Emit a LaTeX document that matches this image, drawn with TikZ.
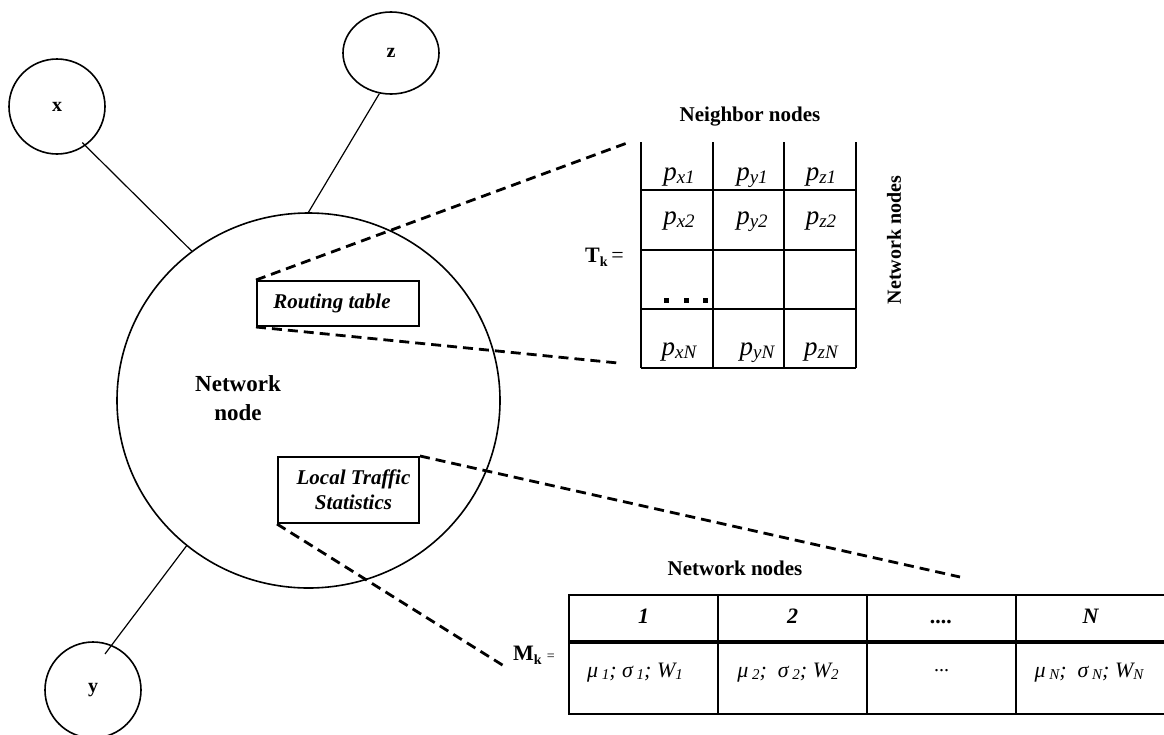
\documentclass[tikz,border=0pt]{standalone}
\usepackage{fontspec}
\setmainfont{Liberation Serif}
\usetikzlibrary{shapes.geometric,calc}
\newcommand\fs[1]{\fontsize{#1}{#1}\selectfont}
\newcommand\pcell[1]{\fs{27}\itshape p\raisebox{-3pt}{\fs{19}#1}}
\newcommand\msub[1]{\raisebox{-2pt}{\fs{15}#1}}
\tikzset{
  nd/.style={draw,ellipse,line width=1.6pt,inner sep=0pt,font=\fs{20}\bfseries},
  link/.style={line width=1.2pt},
  zoomline/.style={line width=2.8pt,dash pattern=on 10pt off 6pt},
  box/.style={draw,line width=2pt,inner sep=0pt},
  tline/.style={line width=1.7pt},
  mline/.style={line width=2.4pt},
  thickline/.style={line width=4.5pt},
  cell/.style={anchor=base,inner sep=0pt},
  hdr/.style={anchor=base,inner sep=0pt,font=\fs{22}\bfseries\itshape},
  mcell/.style={anchor=base,inner sep=0pt,font=\fs{22}\itshape},
  ttl/.style={anchor=base,inner sep=0pt,font=\fs{21}\bfseries},
}
\begin{document}
\begin{tikzpicture}[x=1pt,y=-1pt]
\useasboundingbox (0,0) rectangle (1164,734);
% nodes
\node[nd,minimum width=383pt,minimum height=375pt] (big) at (308.5,400.5) {};
\node[nd,minimum width=96pt,minimum height=95pt] (x) at (57,106.5) {x};
\node[nd,minimum width=96pt,minimum height=82pt] (z) at (391,53) {z};
\node[nd,minimum width=96pt,minimum height=96pt] (y) at (93,690) {y};
\node[font=\fontsize{23}{29}\selectfont\bfseries,align=center] (nn) at (238,398) {Network\\node};
% links
\draw[link] ($(x.center)+(-55:44pt)$) -- (big.128);
\draw[link] (z.-106) -- (big.90);
\draw[link] (big.230.7) -- ($(y.center)+(71.6:38pt)$);
% inner boxes
\node[box,minimum width=162pt,minimum height=45pt,font=\fs{21}\bfseries\itshape] (rt) at (338,303.5) {Routing table\hspace*{12pt}};
\node[box,minimum width=141pt,minimum height=66pt,font=\fontsize{21}{25}\selectfont\bfseries\itshape,align=center] (lts) at (348.5,490) {\hspace*{10pt}Local Traffic\\\hspace*{10pt}Statistics};
% zoom lines
\coordinate (ta) at (627,143);
\coordinate (tb) at (618,363);
\coordinate (ma) at (960,577);
\coordinate (mb) at (504,666);
\draw[zoomline] (rt.north west) -- (ta);
\draw[zoomline] (rt.south west) -- (tb);
\draw[zoomline] (lts.north east) -- (ma);
\draw[zoomline] (lts.south west) -- (mb);
% routing table matrix T_k
\draw[tline] (641,142) -- (641,368) (713,142) -- (713,368) (784,142) -- (784,368) (856,142) -- (856,368);
\draw[tline] (641,190) -- (856,190) (641,250) -- (856,250) (641,309) -- (856,309) (641,368) -- (856,368);
\node[cell] (px1) at (679,180) {\pcell{x1}};
\node[cell] (py1) at (752,180) {\pcell{y1}};
\node[cell] (pz1) at (821,180) {\pcell{z1}};
\node[cell] (px2) at (679,224) {\pcell{x2}};
\node[cell] (py2) at (752,224) {\pcell{y2}};
\node[cell] (pz2) at (821,224) {\pcell{z2}};
\node[cell] (pxN) at (679,355) {\pcell{xN}};
\node[cell] (pyN) at (757,355) {\pcell{yN}};
\node[cell] (pzN) at (821,355) {\pcell{zN}};
\fill (663.5,297.5) rectangle ++(5,5);
\fill (683.5,297.5) rectangle ++(5,5);
\fill (702.5,297.5) rectangle ++(5,5);
\node[ttl] (nb) at (750,121) {Neighbor nodes};
\node[font=\fs{20}\bfseries,rotate=90] (nw) at (894,240) {Network nodes};
\node[anchor=base west,inner sep=0pt,font=\fs{22}\bfseries] (tk) at (585,262) {T\raisebox{-4pt}{\fs{14}k}\,\mdseries=};
% statistics matrix M_k
\node[ttl] (nw2) at (735,575) {Network nodes};
\node[anchor=base west,inner sep=0pt,font=\fs{22}\bfseries] (mk) at (513,660) {M\raisebox{-4pt}{\fs{14}k}\hspace{5pt}\fs{14}\mdseries=};
\draw[mline] (569,595) rectangle (1166,714);
\draw[mline] (718,595) -- (718,714) (867,595) -- (867,714) (1016,595) -- (1016,714);
\draw[thickline] (569,642) -- (1166,642);
\node[hdr] (h1) at (643.5,623) {1};
\node[hdr] (h2) at (792.5,623) {2};
\node[hdr] (h3) at (941.5,623) {....};
\node[hdr] (h4) at (1090.5,623) {N};
\node[mcell] (c1) at (635,677) {μ\,\msub{1}; σ\,\msub{1}; W\msub{1}};
\node[mcell] (c2) at (788,677) {μ\,\msub{2};\ \ σ\,\msub{2}; W\msub{2}};
\node[mcell,font=\fs{20}] (c3) at (941.5,671) {...};
\node[mcell] (c4) at (1089,677) {μ\,\msub{N};\ \ σ\,\msub{N}; W\msub{N}};
\end{tikzpicture}
\end{document}
